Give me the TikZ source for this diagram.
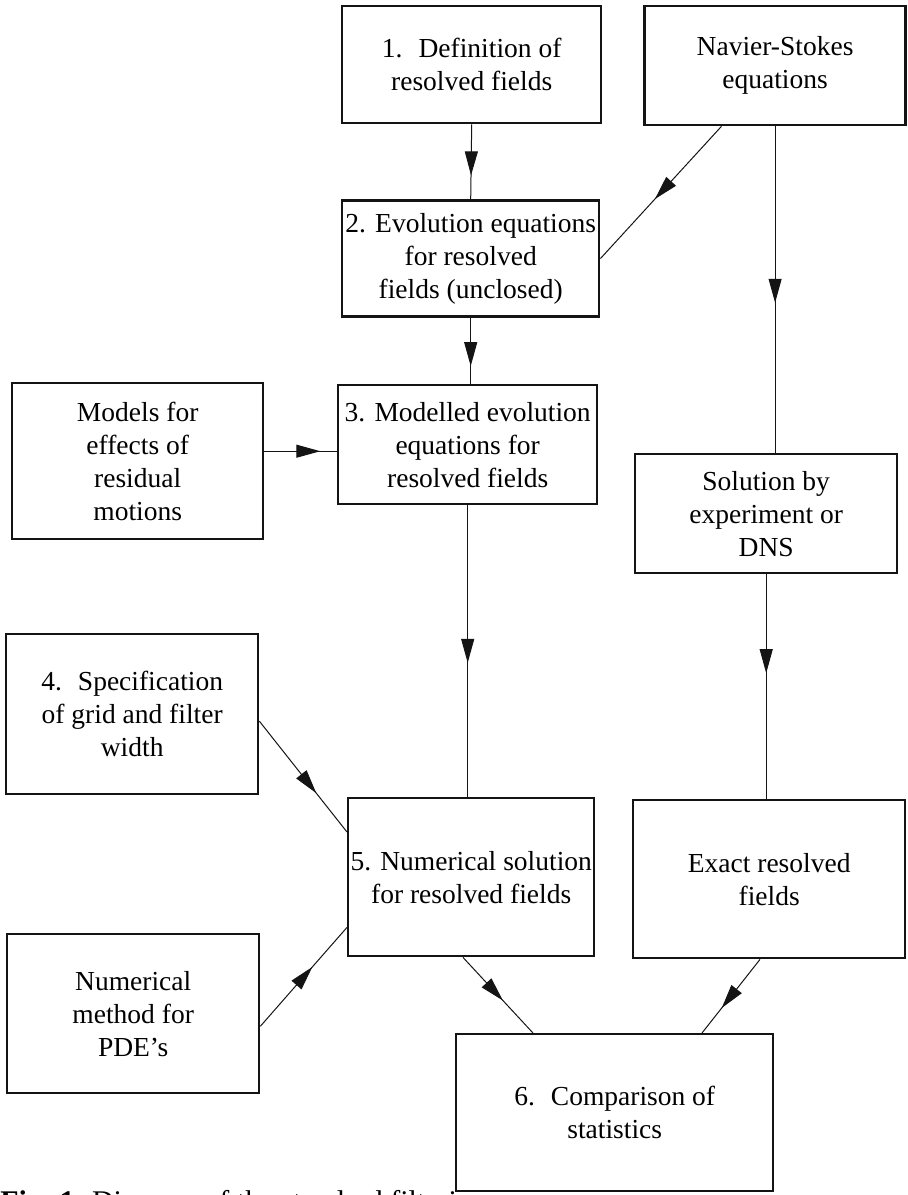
\documentclass[tikz,border=0pt]{standalone}
\usepackage{fontspec}
\setmainfont{Liberation Serif}
\usepackage{xcolor}
\usetikzlibrary{arrows.meta,decorations.markings,positioning}
\definecolor{printink}{HTML}{141414}
\definecolor{paperwhite}{HTML}{FFFFFF}

\begin{document}
\begin{tikzpicture}[x=1pt,y=1pt,
    every node/.style={font=\fontsize{13.75}{16.5}\selectfont},
    stagebox/.style={draw=printink,fill=paperwhite,line width=1.2pt,align=center,
      inner sep=1pt,anchor=north west},
    flow/.style={draw=printink,line width=.5pt,postaction={decorate},
      decoration={markings,mark=at position #1 with
        {\arrow{Triangle[length=12pt,width=6.5pt]}}}},
    flow/.default=.6]
  \useasboundingbox (0,0) rectangle (453.5,-597.5);
  \node[anchor=base west,inner sep=0pt,font=\fontsize{15}{18}\selectfont]
    (caption) at (0,-605.5) {\textbf{Fig. 1.} Diagram of the standard filtering};
  \node[stagebox,minimum width=129.5pt,minimum height=58.5pt] (define) at (170.5,-2.5)
    {1.~ Definition of\\resolved fields};
  \node[stagebox,minimum width=130.5pt,minimum height=59.5pt,
    right=20.5pt of define.north east,anchor=north west] (navier)
    {Navier-Stokes\\equations};
  \node[stagebox,minimum width=128.5pt,minimum height=58pt,
    below=37.5pt of define.south west,anchor=north west] (evolve)
    {2. Evolution equations\\for resolved\\fields (unclosed)};
  \node[stagebox,minimum width=125.5pt,minimum height=78pt] (residual) at (5.5,-191)
    {Models for\\effects of\\residual\\motions};
  \node[stagebox,minimum width=129.5pt,minimum height=59.5pt] (modelled) at (168.5,-192)
    {3. Modelled evolution\\equations for\\resolved fields};
  \node[stagebox,minimum width=131pt,minimum height=59.5pt] (solution) at (317,-226.5)
    {Solution by\\experiment or\\DNS};
  \node[stagebox,minimum width=126pt,minimum height=80pt] (gridspec) at (2.5,-316.5)
    {4.~ Specification\\of grid and filter\\width};
  \node[stagebox,minimum width=123pt,minimum height=79pt] (numsol) at (173.5,-398.5)
    {5. Numerical solution\\for resolved fields};
  \node[stagebox,minimum width=136pt,minimum height=79pt] (exact) at (316,-399.5)
    {Exact resolved\\fields};
  \node[stagebox,minimum width=126pt,minimum height=79.5pt] (pdemethod) at (3,-466.5)
    {Numerical\\method for\\PDE's};
  \node[stagebox,minimum width=158.5pt,minimum height=78.5pt] (compare) at (227.5,-516.5)
    {6.~ Comparison of\\statistics};

  \draw[flow=.68] (define.south) -- (evolve.north);
  \draw[flow=.55] ([xshift=39pt]navier.south west) -- (evolve.east);
  \draw[flow=.54] (navier.south) -- (navier.south |- solution.north);
  \draw[flow=.73] (evolve.south) -- (evolve.south |- modelled.north);
  \coordinate (modelledin) at ([yshift=-3.25pt]modelled.west);
  \draw[flow=.77] (modelledin -| residual.east) -- (modelledin);
  \draw[flow=.54] (modelled.south) -- (modelled.south |- numsol.north);
  \draw[flow=.65] ([yshift=-3.5pt]gridspec.east) -- ([yshift=-17.5pt]numsol.north west);
  \draw[flow=.6] ([yshift=-6.25pt]pdemethod.east) -- ([yshift=15pt]numsol.south west);
  \draw[flow=.44] (solution.south) -- (solution.south |- exact.north);
  \draw[flow=.57] ([xshift=58pt]numsol.south west) -- ([xshift=39pt]compare.north west);
  \draw[flow=.66] ([xshift=64pt]exact.south west) -- ([xshift=123.5pt]compare.north west);
\end{tikzpicture}
\end{document}
